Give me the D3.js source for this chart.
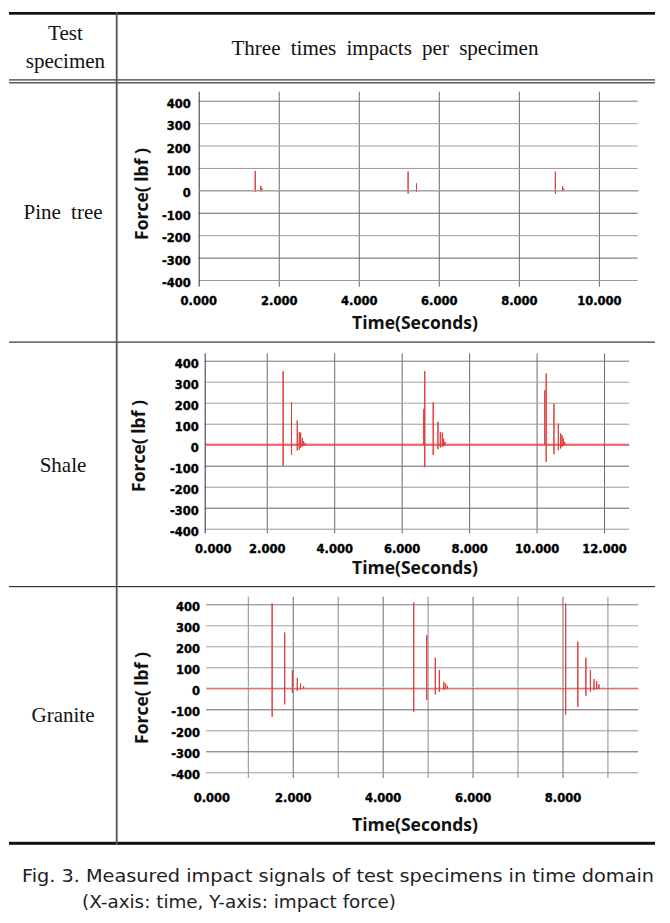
<!DOCTYPE html>
<html>
<head>
<meta charset="utf-8">
<script src="https://cdn.jsdelivr.net/npm/d3@7"></script>
<style>
  body { margin: 0; background: #fff; }
  svg { display: block; }
</style>
</head>
<body>
<script>
// ---- data ----
const specimens = ["Pine tree", "Shale", "Granite"];
const forceTicks = [400, 300, 200, 100, 0, -100, -200, -300, -400];

const pineTimeLabels = [0, 2, 4, 6, 8, 10];
const shaleTimeLabels = [0, 2, 4, 6, 8, 10, 12];
const graniteTimeLabels = [0, 2, 4, 6, 8];

const pineTimeGrid = [2, 4, 6, 8, 10];
const shaleTimeGrid = [2, 4, 6, 8, 10, 12];
const graniteTimeGrid = [1, 2, 3, 4, 5, 6, 7, 8, 9];

// recorded span of each signal (seconds)
const pineSpan = [0, 10.97];
const shaleSpan = [0.16, 12.74];
const graniteSpan = [0.07, 9.68];

// spikes of the force signal: [time (s), peak (lbf), trough (lbf)]
const pineSpikes = [
  [1.40, 89, -4], [1.54, 22, -2], [1.57, 10, 0],
  [5.22, 86, -12], [5.43, 33, -4],
  [8.90, 86, -12], [9.08, 21, -2], [9.11, 10, 0]
];
const shaleSpikes = [
  [2.47, 352, -98], [2.72, 205, -46], [2.89, 118, -25], [2.95, 62, -22],
  [2.99, 60, -12], [3.04, 34, -6], [3.08, 20, -3], [3.13, 10, 0],
  [6.64, 173, 0], [6.67, 352, -105], [6.92, 204, -47], [7.06, 111, -19],
  [7.13, 63, -11], [7.19, 60, -8], [7.23, 32, -4], [7.27, 16, 0],
  [10.23, 262, 0], [10.27, 341, -79], [10.50, 198, -43], [10.63, 103, -24],
  [10.70, 56, -16], [10.74, 48, -8], [10.78, 32, -4], [10.82, 16, 0]
];
const graniteSpikes = [
  [1.53, 406, -133], [1.81, 268, -74], [1.98, 89, -20], [2.09, 52, -10],
  [2.16, 25, -4], [2.23, 12, 0],
  [4.68, 411, -110], [4.97, 256, -54], [5.16, 148, -27], [5.25, 89, -15],
  [5.35, 33, -5], [5.39, 24, -2], [5.43, 14, 0],
  [8.06, 406, -122], [8.33, 224, -86], [8.51, 148, -33], [8.61, 89, -14],
  [8.69, 46, -6], [8.75, 37, -3], [8.80, 21, 0]
];

// ---- page ----
const W = 670, H = 923;
const svg = d3.select("body").append("svg")
  .attr("width", W).attr("height", H)
  .style("font-family", "'DejaVu Sans', sans-serif");

svg.append("rect").attr("width", W).attr("height", H).attr("fill", "#fff");

// grey shades of the horizontal grid lines
function gridShade(v) {
  if (v == 400) return "#7a7a7a";
  if (v == 300 || v == 200) return "#a4a4a4";
  if (v == 100 || v == -200 || v == -400) return "#999";
  return "#666";
}

const panels = [
  { spikes: pineSpikes, span: pineSpan, labels: pineTimeLabels, grid: pineTimeGrid,
    left: 198.7, right: 637.7, top: 100.7, bottom: 280, gridTop: 91.7, gridBottom: 286.7,
    axisLine: true, pad: 8, zeroShift: 0, labelY: 300.7, titleY: 322,
    yTitle: [140.7, 194], zero: "#78b8ac", zeroOnTop: true },
  { spikes: shaleSpikes, span: shaleSpan, labels: shaleTimeLabels, grid: shaleTimeGrid,
    left: 204.7, right: 629, top: 360.7, bottom: 528.7, gridTop: 353.3, gridBottom: 533.3,
    axisLine: true, pad: 6, zeroShift: 14, labelY: 549.3, titleY: 567,
    yTitle: [138, 446], zero: "#e05050", zeroOnTop: false },
  { spikes: graniteSpikes, span: graniteSpan, labels: graniteTimeLabels, grid: graniteTimeGrid,
    left: 206, right: 638, top: 604.3, bottom: 772.3, gridTop: 596.7, gridBottom: 778,
    axisLine: false, pad: 6, zeroShift: 9, labelY: 797.5, titleY: 824,
    yTitle: [140.7, 698], zero: "#aee3e6", zeroOnTop: false }
];

const tickFont = "11.5px";

function heavy(sel) {
  sel.attr("fill", "#000")
    .attr("stroke", "#000")
    .attr("stroke-width", 0.35)
    .style("font-family", "'DejaVu Sans', sans-serif")
    .style("font-weight", "bold")
    .style("font-size", tickFont);
}

panels.forEach(function (p) {
  var g = svg.append("g");

  var x = d3.scaleLinear().domain(p.span).range([p.left, p.right]);
  var y = d3.scaleLinear().domain([-400, 400]).range([p.bottom, p.top]);

  // vertical grid
  g.append("g")
    .attr("transform", "translate(0," + p.gridBottom + ")")
    .call(d3.axisBottom(x).tickValues(p.grid).tickSize(-(p.gridBottom - p.gridTop)).tickFormat(""))
    .call(s => s.select(".domain").remove())
    .selectAll("line")
    .attr("stroke", d => (d % 2 == 0 ? "#6a6a6a" : "#8c8c8c"));

  // horizontal grid + force labels
  var ya = g.append("g")
    .attr("transform", "translate(" + p.left + ",0)")
    .call(d3.axisLeft(y).tickValues(forceTicks).tickSize(-(p.right - p.left))
      .tickPadding(p.pad).tickFormat(d => String(d)));
  ya.select(".domain").remove();
  ya.selectAll("line")
    .attr("stroke", d => (d == 0 ? (p.zeroOnTop ? "none" : p.zero) : gridShade(d)))
    .attr("transform", d => (d == 0 && !p.zeroOnTop ? "translate(0,-1)" : null));
  ya.selectAll("text")
    .attr("dy", "0.36em")
    .attr("transform", "translate(0,2.5)")
    .call(heavy);

  if (p.axisLine) {
    g.append("line")
      .attr("x1", x(p.span[0]) + 0.5).attr("x2", x(p.span[0]) + 0.5)
      .attr("y1", p.gridTop).attr("y2", p.gridBottom)
      .attr("stroke", "#333");
  }

  // time labels
  var xa = g.append("g")
    .attr("transform", "translate(0," + p.labelY + ")")
    .call(d3.axisBottom(x).tickValues(p.labels).tickSize(0).tickPadding(0)
      .tickFormat(d => d.toFixed(3)));
  xa.select(".domain").remove();
  xa.selectAll(".tick")
    .filter(d => d == 0)
    .attr("transform", "translate(" + (x(0) + p.zeroShift) + ",0)");
  xa.selectAll("text")
    .attr("y", 0).attr("dy", "0.36em")
    .call(heavy);

  // signal trace
  var pts = [[p.span[0], 0]];
  p.spikes.forEach(function (s) {
    pts.push([s[0], 0], [s[0], s[1]], [s[0], s[2]], [s[0], 0]);
  });
  pts.push([p.span[1], 0]);

  var line = d3.line().x(d => x(d[0])).y(d => y(d[1]));
  g.append("path")
    .datum(pts)
    .attr("d", line)
    .attr("fill", "none")
    .attr("stroke", "#e23b3b")
    .attr("stroke-width", 1)
    .attr("transform", "translate(0.5,0.5)");

  if (p.zeroOnTop) {
    g.append("line")
      .attr("x1", p.left).attr("x2", p.right)
      .attr("y1", Math.round(y(0)) + 0.5).attr("y2", Math.round(y(0)) + 0.5)
      .attr("stroke", p.zero).attr("stroke-width", 1.2);
  }

  // axis titles
  g.append("text")
    .attr("x", 415).attr("y", p.titleY)
    .attr("text-anchor", "middle")
    .attr("dominant-baseline", "central")
    .attr("fill", "#111")
    .style("font-family", "'Open Sans', sans-serif")
    .style("font-weight", "bold")
    .style("font-size", "17.5px")
    .text("Time(Seconds)");

  g.append("text")
    .attr("transform", "translate(" + p.yTitle[0] + "," + p.yTitle[1] + ") rotate(-90)")
    .attr("text-anchor", "middle")
    .attr("dominant-baseline", "central")
    .attr("fill", "#111")
    .style("font-family", "'Open Sans', sans-serif")
    .style("font-weight", "bold")
    .style("font-size", "17.5px")
    .text("Force( lbf )");
});

// ---- table frame ----
const X0 = 9, X1 = 655;
const frame = svg.append("g");
frame.append("rect").attr("x", X0).attr("y", 12).attr("width", X1 - X0).attr("height", 2.7).attr("fill", "#111");
frame.append("rect").attr("x", X0).attr("y", 79.3).attr("width", X1 - X0).attr("height", 1.2).attr("fill", "#333");
frame.append("rect").attr("x", X0).attr("y", 82.2).attr("width", X1 - X0).attr("height", 1.2).attr("fill", "#333");
frame.append("rect").attr("x", X0).attr("y", 341.5).attr("width", X1 - X0).attr("height", 1.2).attr("fill", "#333");
frame.append("rect").attr("x", X0).attr("y", 586).attr("width", X1 - X0).attr("height", 1.2).attr("fill", "#333");
frame.append("rect").attr("x", X0).attr("y", 841.8).attr("width", X1 - X0).attr("height", 3).attr("fill", "#111");
frame.append("rect").attr("x", 115.8).attr("y", 12).attr("width", 1.8).attr("height", 833).attr("fill", "#555");

const serif = "'Liberation Serif', 'Times New Roman', serif";
function cellText(txt, cx, by) {
  svg.append("text")
    .attr("x", cx).attr("y", by)
    .attr("text-anchor", "middle")
    .attr("fill", "#111")
    .style("font-family", serif)
    .style("font-size", "21px")
    .style("word-spacing", "5px")
    .text(txt);
}
cellText("Test", 65.4, 40);
cellText("specimen", 65.4, 68);
cellText("Three times impacts per specimen", 385, 55);
cellText(specimens[0], 63, 219);
cellText(specimens[1], 63, 472);
cellText(specimens[2], 63, 722);

// ---- caption ----
svg.append("text")
  .attr("x", 22).attr("y", 882)
  .attr("fill", "#222")
  .style("font-size", "18px")
  .attr("textLength", 632)
  .attr("lengthAdjust", "spacingAndGlyphs")
  .text("Fig. 3. Measured impact signals of test specimens in time domain");
svg.append("text")
  .attr("x", 82).attr("y", 908)
  .attr("fill", "#222")
  .style("font-size", "18px")
  .attr("textLength", 314)
  .attr("lengthAdjust", "spacingAndGlyphs")
  .text("(X-axis: time, Y-axis: impact force)");
</script>
</body>
</html>
